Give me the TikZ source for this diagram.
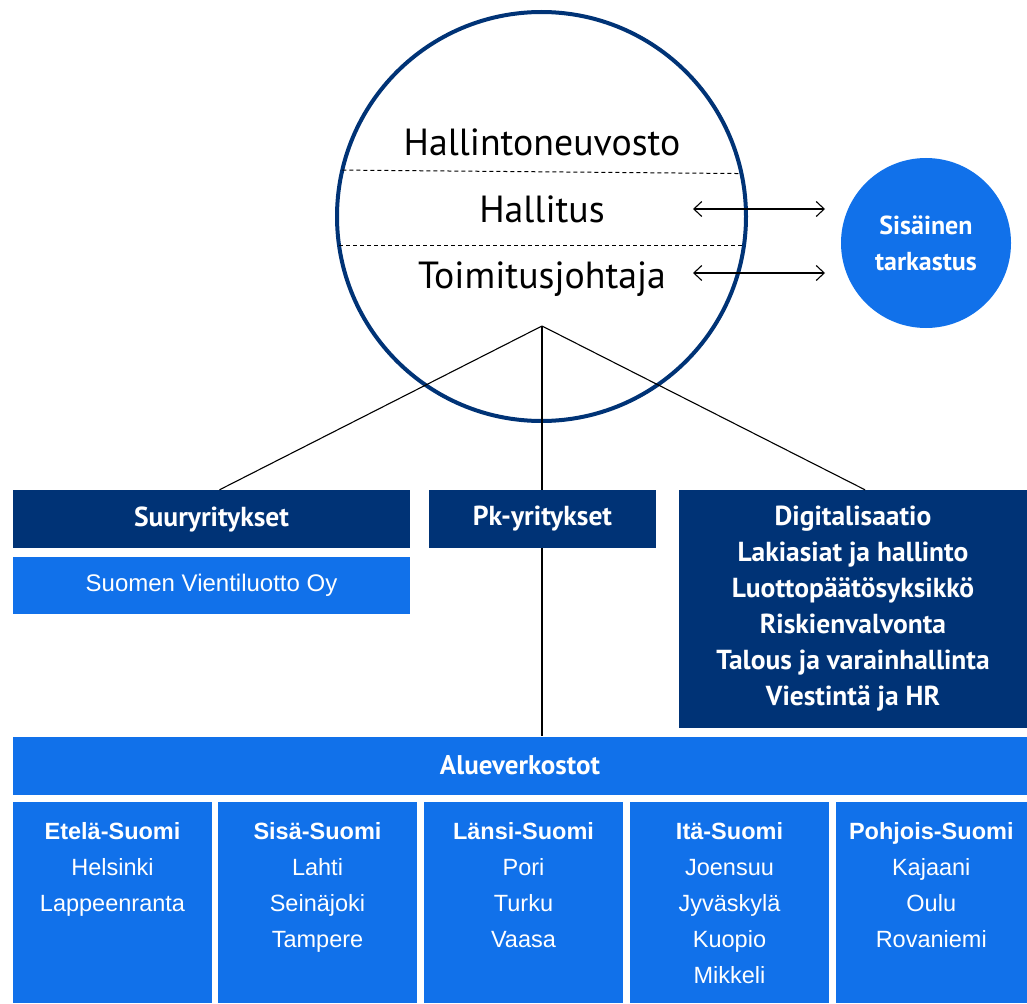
\documentclass[tikz,border=0pt]{standalone}
\usepackage{fontspec}
\setmainfont{Liberation Sans}
\newfontfamily\ptsans{PT Sans}
\usetikzlibrary{arrows.meta}
\definecolor{navy}{RGB}{0,51,118}
\definecolor{fvblue}{RGB}{17,113,234}
\begin{document}
\begin{tikzpicture}[x=1pt,y=-1pt,
  darkbox/.style={fill=navy,text=white,inner sep=0pt,align=center,
    font=\ptsans\bfseries\fontsize{27.5}{36}\selectfont},
  bluebox/.style={fill=fvblue,text=white,inner sep=0pt,align=center},
  regtext/.style={text=white,inner sep=0pt,align=center,anchor=north,
    font=\fontsize{23.5}{36}\selectfont},
  circtext/.style={inner sep=0pt,anchor=base,font=\ptsans\fontsize{37.8}{40}\selectfont},
  conn/.style={draw=black,line width=1.1pt},
  twoway/.style={{Straight Barb[length=8pt,width=15pt]}-{Straight Barb[length=8pt,width=15pt]},line width=1.1pt},
  divider/.style={dashed,dash pattern=on 4pt off 3pt,line width=1pt,shorten <=2pt,shorten >=2pt}]
\useasboundingbox (0,0) rectangle (1027,1003);
% governance circle
\node[circle,draw=navy,line width=4pt,fill=white,minimum size=409pt,inner sep=0pt] (gov) at (541.5,216.5) {};
\draw[divider] (gov.167.8) -- (gov.12.2);
\draw[divider] (gov.188) -- (gov.352);
\node[circtext] (hn) at (542,156) {Hallintoneuvosto};
\node[circtext] (hal) at (542,222) {Hallitus};
\node[circtext] (tj) at (542,288) {Toimitusjohtaja};
\coordinate (apex) at (542,326);
% internal audit
\node[circle,fill=fvblue,minimum size=170pt,inner sep=0pt,text=white,align=center,
  font=\ptsans\bfseries\fontsize{26}{36}\selectfont] (sis) at (926,243) {Sisäinen\\tarkastus};
\coordinate (a1) at (693,209); \coordinate (a2) at (825,209);
\coordinate (b1) at (693,273); \coordinate (b2) at (825,273);
\draw[twoway] (a1) -- (a2);
\draw[twoway] (b1) -- (b2);
% boxes
\node[darkbox,minimum width=397pt,minimum height=58pt] (suur) at (211.5,519) {Suuryritykset};
\node[bluebox,minimum width=397pt,minimum height=57pt,font=\fontsize{24}{28}\selectfont] (svo) at (211.5,585.5) {Suomen Vientiluotto Oy};
\node[darkbox,minimum width=348pt,minimum height=238pt] (dig) at (853,609)
  {Digitalisaatio\\Lakiasiat ja hallinto\\Luottopäätösyksikkö\\Riskienvalvonta\\Talous ja varainhallinta\\Viestintä ja HR};
\node[bluebox,minimum width=1014pt,minimum height=58pt,font=\ptsans\bfseries\fontsize{27}{30}\selectfont] (alue) at (520,765.5) {Alueverkostot};
% connectors
\draw[conn] (apex) -- ([xshift=8pt]suur.north);
\draw[conn] (apex) -- (apex |- alue.north);
\draw[conn] (apex) -- ([xshift=12pt]dig.north);
\node[darkbox,minimum width=227pt,minimum height=58pt] (pk) at (542.5,519) {Pk-yritykset};
% regions
\node[bluebox,minimum width=199pt,minimum height=201pt] (r1) at (112.5,902.5) {};
\node[bluebox,minimum width=199pt,minimum height=201pt] (r2) at (317.5,902.5) {};
\node[bluebox,minimum width=199pt,minimum height=201pt] (r3) at (523.5,902.5) {};
\node[bluebox,minimum width=199pt,minimum height=201pt] (r4) at (729.5,902.5) {};
\node[bluebox,minimum width=191.5pt,minimum height=201pt] (r5) at (931.25,902.5) {};
\node[regtext] (t1) at ([yshift=-20pt]r1.north) {\textbf{Etelä-Suomi}\\Helsinki\\Lappeenranta};
\node[regtext] (t2) at ([yshift=-20pt]r2.north) {\textbf{Sisä-Suomi}\\Lahti\\Seinäjoki\\Tampere};
\node[regtext] (t3) at ([yshift=-20pt]r3.north) {\textbf{Länsi-Suomi}\\Pori\\Turku\\Vaasa};
\node[regtext] (t4) at ([yshift=-20pt]r4.north) {\textbf{Itä-Suomi}\\Joensuu\\Jyväskylä\\Kuopio\\Mikkeli};
\node[regtext] (t5) at ([yshift=-20pt]r5.north) {\textbf{Pohjois-Suomi}\\Kajaani\\Oulu\\Rovaniemi};
\end{tikzpicture}
\end{document}
